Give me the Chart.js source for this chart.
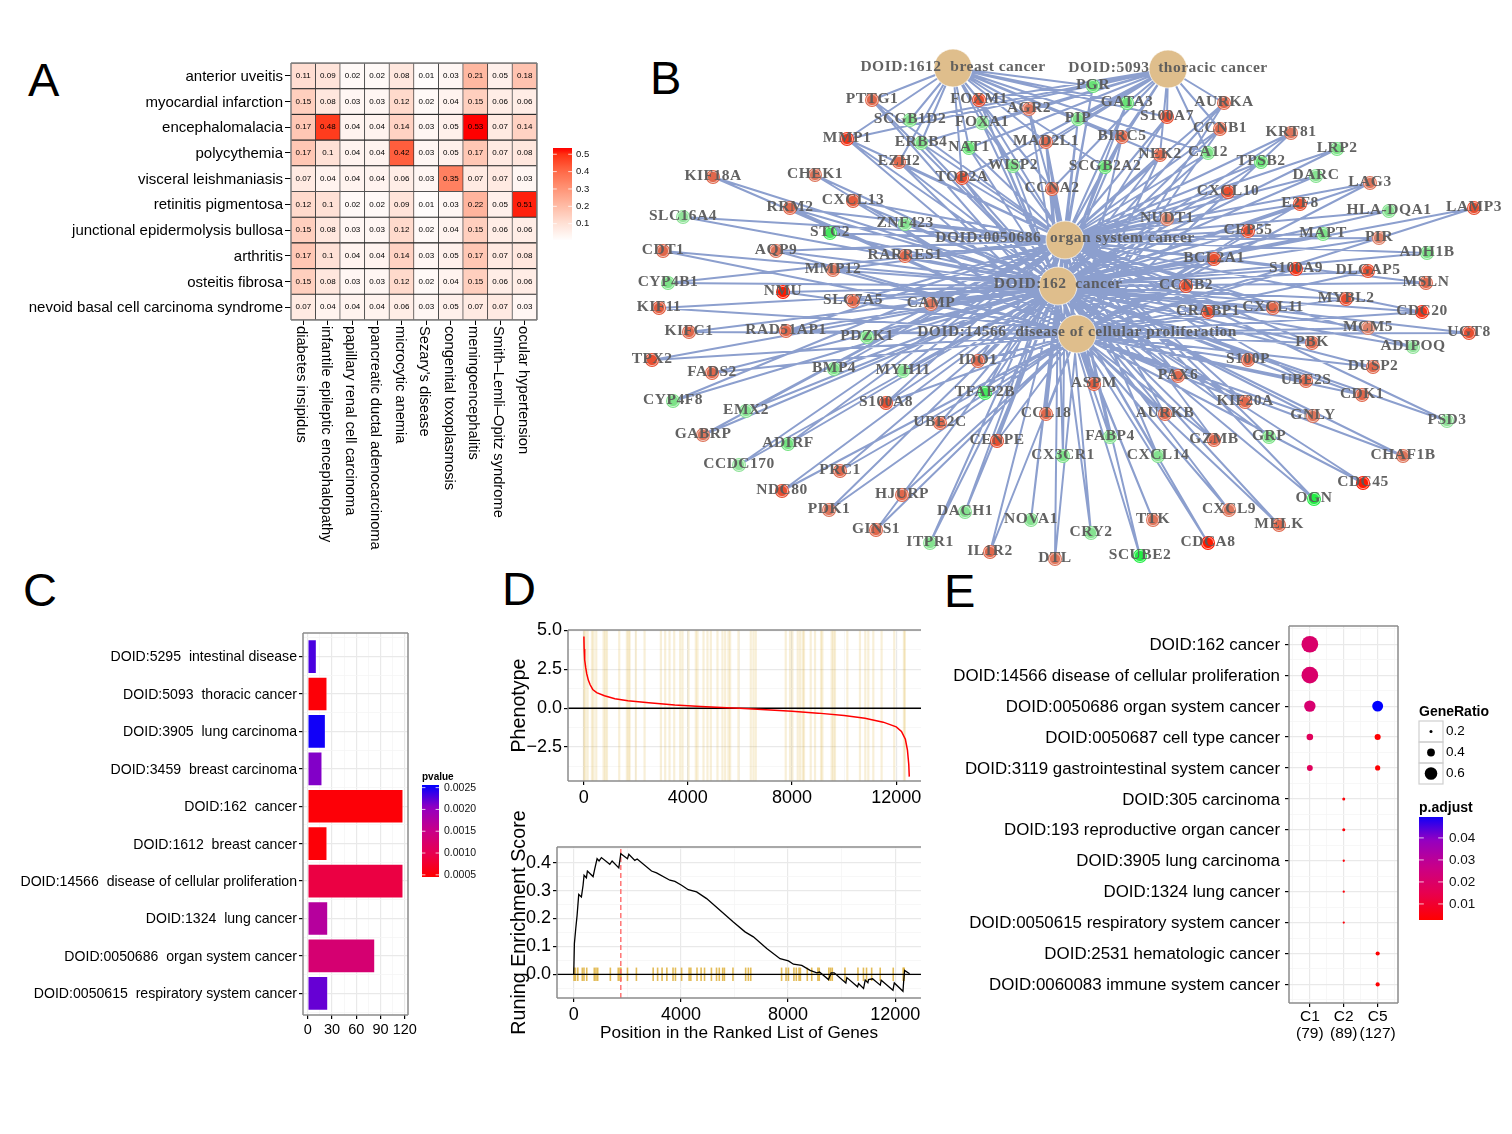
<!DOCTYPE html>
<html>
<head>
<meta charset="utf-8">
<title>Disease enrichment figure</title>
<script src="https://cdn.jsdelivr.net/npm/chart.js@4/dist/chart.umd.min.js"></script>
<style>
  html, body { margin: 0; background: #fff; }
  #page { position: relative; width: 1512px; height: 1134px; overflow: hidden; }
  #page canvas { position: absolute; }
  .letter { position: absolute; font: 47px "Liberation Sans"; line-height: 48px; color: #000; }
</style>
</head>
<body>
<div id="page">
  <div class="letter" style="left:28px;top:56px">A</div>
  <div class="letter" style="left:650px;top:54px">B</div>
  <div class="letter" style="left:23px;top:566px">C</div>
  <div class="letter" style="left:502px;top:565px">D</div>
  <div class="letter" style="left:944px;top:567px">E</div>
</div>
<script>
// Panel A data
const heatRows = ['anterior uveitis', 'myocardial infarction', 'encephalomalacia', 'polycythemia', 'visceral leishmaniasis',
  'retinitis pigmentosa', 'junctional epidermolysis bullosa', 'arthritis', 'osteitis fibrosa', 'nevoid basal cell carcinoma syndrome'];
const heatCols = ['diabetes insipidus', 'infantile epileptic encephalopathy', 'papillary renal cell carcinoma', 'pancreatic ductal adenocarcinoma',
  'microcytic anemia', "Sezary's disease", 'congenital toxoplasmosis', 'meningoencephalitis', 'Smith\u2013Lemli\u2013Opitz syndrome', 'ocular hypertension'];
const heatValues = [
  [0.11, 0.09, 0.02, 0.02, 0.08, 0.01, 0.03, 0.21, 0.05, 0.18],
  [0.15, 0.08, 0.03, 0.03, 0.12, 0.02, 0.04, 0.15, 0.06, 0.06],
  [0.17, 0.48, 0.04, 0.04, 0.14, 0.03, 0.05, 0.53, 0.07, 0.14],
  [0.17, 0.1, 0.04, 0.04, 0.42, 0.03, 0.05, 0.17, 0.07, 0.08],
  [0.07, 0.04, 0.04, 0.04, 0.06, 0.03, 0.35, 0.07, 0.07, 0.03],
  [0.12, 0.1, 0.02, 0.02, 0.09, 0.01, 0.03, 0.22, 0.05, 0.51],
  [0.15, 0.08, 0.03, 0.03, 0.12, 0.02, 0.04, 0.15, 0.06, 0.06],
  [0.17, 0.1, 0.04, 0.04, 0.14, 0.03, 0.05, 0.17, 0.07, 0.08],
  [0.15, 0.08, 0.03, 0.03, 0.12, 0.02, 0.04, 0.15, 0.06, 0.06],
  [0.07, 0.04, 0.04, 0.04, 0.06, 0.03, 0.05, 0.07, 0.07, 0.03]
];

const hubNames = ['DOID:1612  breast cancer', 'DOID:5093  thoracic cancer', 'DOID:0050686  organ system cancer', 'DOID:162  cancer', 'DOID:14566  disease of cellular proliferation'];
const hubCodes = ['B', 'T', 'O', 'C', 'P'];
const hubX = [953, 1168, 1065, 1058, 1077];
const hubY = [68, 69, 240, 286, 334];
const geneNames = ['PTTG1', 'FOXM1', 'AGR2', 'SCGB1D2', 'FOXA1', 'PIP', 'MMP1', 'ERBB4', 'NAT1', 'MAD2L1', 'EZH2', 'WISP2', 'TOP2A', 'CCNA2',
  'PGR', 'GATA3', 'AURKA', 'S100A7', 'CCNB1', 'BIRC5', 'NEK2', 'CA12', 'SCGB2A2', 'KRT81', 'LRP2', 'TPSB2', 'DARC', 'LAG3', 'CXCL10', 'E2F8',
  'HLA-DQA1', 'LAMP3', 'NUDT1', 'CEP55', 'MAPT', 'PIR', 'ADH1B', 'BCL2A1', 'S100A9', 'DLGAP5', 'MSLN', 'CCNB2', 'MYBL2', 'CRABP1', 'CXCL11',
  'CDC20', 'MCM5', 'UGT8', 'PBK', 'ADIPOQ', 'S100P', 'DUSP2', 'PAX6', 'UBE2S', 'ASPM', 'CDK1', 'KIF20A', 'AURKB', 'GNLY', 'PSD3', 'FABP4',
  'GRP', 'GZMB', 'CX3CR1', 'CXCL14', 'CHAF1B', 'CDC45', 'OGN', 'CXCL9', 'TTK', 'MELK', 'CRY2', 'CDCA8', 'SCUBE2', 'DTL',
  'KIF18A', 'CHEK1', 'CXCL13', 'RRM2', 'SLC16A4', 'ZNF423', 'STC2', 'AQP9', 'CDT1', 'RARRES1', 'MMP12', 'CYP4B1', 'NMU', 'SLC7A5', 'CAMP',
  'KIF11', 'KIFC1', 'RAD51AP1', 'PDZK1', 'TPX2', 'FADS2', 'IDO1', 'BMP4', 'MYH11', 'CYP4F8', 'EMX2', 'TFAP2B', 'S100A8', 'UBE2C', 'CCL18',
  'GABRP', 'ADIRF', 'CENPE', 'CCDC170', 'PRC1', 'NDC80', 'HJURP', 'PDK1', 'DACH1', 'NOVA1', 'GINS1', 'ITPR1', 'IL1R2'];
const geneX = [872, 979, 1029, 910, 982, 1078, 847, 921, 969, 1046, 899, 1013, 962, 1052,
  1093, 1127, 1224, 1167, 1220, 1122, 1160, 1208, 1105, 1291, 1337, 1261, 1316, 1370, 1228, 1300,
  1389, 1474, 1167, 1248, 1323, 1379, 1427, 1214, 1296, 1368, 1426, 1186, 1346, 1208, 1273,
  1422, 1368, 1469, 1312, 1413, 1248, 1373, 1178, 1306, 1094, 1362, 1245, 1165, 1313, 1447, 1110,
  1269, 1214, 1063, 1158, 1403, 1363, 1314, 1229, 1153, 1279, 1091, 1208, 1140, 1055,
  713, 815, 853, 790, 683, 905, 830, 776, 663, 905, 833, 668, 783, 853, 931,
  659, 689, 786, 867, 652, 712, 978, 834, 903, 673, 746, 985, 886, 940, 1046,
  703, 788, 997, 739, 840, 782, 902, 829, 965, 1031, 876, 930, 990];
const geneY = [100, 100, 109, 120, 123, 119, 139, 143, 148, 142, 162, 166, 178, 189,
  86, 103, 103, 117, 129, 137, 155, 153, 167, 133, 149, 162, 176, 183, 192, 204,
  211, 208, 219, 231, 234, 238, 253, 259, 269, 271, 283, 286, 299, 312, 308,
  312, 328, 333, 343, 347, 360, 367, 376, 381, 384, 395, 402, 414, 416, 421, 437,
  437, 440, 456, 456, 456, 483, 499, 510, 520, 525, 533, 543, 556, 559,
  177, 175, 201, 208, 217, 224, 233, 251, 251, 256, 270, 283, 292, 301, 304,
  308, 332, 331, 337, 360, 373, 361, 369, 371, 401, 411, 393, 403, 423, 414,
  435, 444, 441, 465, 471, 491, 495, 510, 512, 520, 530, 543, 552];
const geneFold = [2, 3, 1.5, -2, -1.5, -2, 4, -2, -3, 2, 2, -2, 3, 2,
  -3, -3, 2, 3, 2, 2, 2, -2, -3, 1.5, -2, -3, -1.5, 1.5, 3, 3,
  -1.5, 3, 1, 3, -2, 1, -2, 3, 4, 3, 2, 3, 3, 3, 2,
  4, 1, 3, 2, -1, 2, 2, 2, 2, 2.5, 2, 2, 2, 1.5, -1, -1.5,
  -2, 2, -2, -1.5, 1.5, 5, -5, 1.5, 1.5, 2, -1.5, 5, -5, 1.5,
  2, 1.5, 2.5, 2, -1, -1.5, -4, 1.5, 2, 2, 1.5, -2, 5, 2, 1.5,
  2.5, 2, 2, -2, 3, 2, 2, -2, -1.5, -2, -1.5, -4, 3, 2, 2,
  1.5, -2.5, 3, -1, 2, 3, 2, 1.5, -1.5, -1.5, 2, -1.5, 2];
const geneHubs = ['BOCP', 'BTOCP', 'BTOC', 'BT', 'BTOC', 'BTOC', 'BTOCP', 'BTOC', 'BTOC', 'BTOCP', 'BOCP', 'BTOC', 'BTOCP', 'BTOCP',
  'BTOC', 'BTOC', 'TOCP', 'BTOC', 'TOCP', 'BTOCP', 'BTOCP', 'BTOC', 'BTOC', 'OCP', 'OC', 'OC', 'OC', 'OCP', 'OCP', 'OCP',
  'OC', 'CP', 'OCP', 'OCP', 'OC', 'OC', 'OC', 'OCP', 'OCP', 'CP', 'OC', 'OCP', 'CP', 'OCP', 'OCP',
  'OCP', 'CP', 'CP', 'OCP', 'OC', 'OCP', 'CP', 'OCP', 'OCP', 'OCP', 'CP', 'OCP', 'OCP', 'CP', 'OC', 'OC',
  'OC', 'OCP', 'OC', 'OC', 'CP', 'CP', 'OC', 'CP', 'CP', 'CP', 'OC', 'CP', 'OC', 'CP',
  'CP', 'CP', 'OCP', 'OCP', 'OC', 'OC', 'OC', 'OCP', 'CP', 'OC', 'OCP', 'OC', 'CP', 'OCP', 'OCP',
  'CP', 'CP', 'OCP', 'OC', 'CP', 'CP', 'OCP', 'OC', 'OC', 'OC', 'OC', 'OC', 'OCP', 'CP', 'OCP',
  'OC', 'OC', 'OCP', 'OC', 'CP', 'CP', 'CP', 'CP', 'OC', 'OC', 'CP', 'OC', 'CP'];

// Panel C data
const barNames = ['DOID:5295  intestinal disease', 'DOID:5093  thoracic cancer', 'DOID:3905  lung carcinoma', 'DOID:3459  breast carcinoma',
  'DOID:162  cancer', 'DOID:1612  breast cancer', 'DOID:14566  disease of cellular proliferation', 'DOID:1324  lung cancer',
  'DOID:0050686  organ system cancer', 'DOID:0050615  respiratory system cancer'];
const barCounts = [10.7, 23.9, 21.9, 17.7, 118, 23.9, 118, 24.8, 83, 24.8];
const barPvalues = [0.0023, 0.0005, 0.0025, 0.0021, 0.0005, 0.0005, 0.0009, 0.0017, 0.0013, 0.0022];
const barXTicks = [0, 30, 60, 90, 120];

// Panel D data
const rankX = [10, 20, 40, 80, 120, 180, 250, 350, 500, 800, 1200, 1700, 2500, 3500, 4500, 5500, 6000, 7000, 8000, 9000, 10000, 10800, 11500, 12000, 12200, 12350, 12430, 12480, 12500];
const rankY = [4.6, 3.8, 3.1, 2.6, 2.2, 1.8, 1.5, 1.2, 1.0, 0.8, 0.6, 0.48, 0.35, 0.2, 0.1, 0.03, 0, -0.1, -0.2, -0.32, -0.48, -0.65, -0.9, -1.2, -1.5, -2.0, -2.7, -3.6, -4.4];
const hitPositions = [13, 64, 153, 320, 383, 486, 767, 831, 895, 1367, 1661, 1725, 1764, 2006, 2339, 2965, 3131, 3297, 3476, 3706, 3796, 4026, 4307, 4371,
  4601, 4754, 4882, 5138, 5329, 5432, 5559, 5623, 5943, 6416, 6518, 6607, 7757, 7923, 8013, 8218, 8307, 8409, 8460, 8716, 8882, 9112, 9163,
  9521, 9585, 9649, 10122, 10607, 10812, 10927, 11119, 11438, 11924, 12294, 12333];
const esX = [0, 25, 75, 125, 187, 287, 349, 386, 474, 511, 723, 785, 872, 947, 1034, 1346, 1433, 1682, 1757, 2006, 2056, 2280, 2368, 2904, 3090, 3589, 3776, 4025, 4274, 4586, 4960,
  5458, 5956, 6393, 6704, 7203, 7701, 8012, 8199, 8511, 8822, 9071, 9171, 9508, 9607, 9720, 10156, 10193, 10592, 10629, 10816, 10878, 10978, 11003, 11152, 11439, 11476, 11913, 11963, 12287, 12312, 12349, 12536];
const esY = [0, 0.11, 0.163, 0.21, 0.286, 0.277, 0.319, 0.355, 0.346, 0.37, 0.35, 0.378, 0.414, 0.406, 0.418, 0.394, 0.406, 0.381, 0.432, 0.414, 0.43, 0.408, 0.413, 0.37, 0.363, 0.337, 0.333, 0.319, 0.303, 0.295, 0.271,
  0.229, 0.187, 0.152, 0.134, 0.092, 0.056, 0.048, 0.036, 0.032, 0.014, 0.005, 0.008, -0.019, 0.005, 0.005, -0.031, -0.012, -0.045, -0.033, -0.051, -0.021, -0.03, -0.019, -0.016, -0.039, -0.021, -0.057, -0.031, -0.061, -0.027, 0.014, 0.002];
const esPeakX = 1757;
const rankXTicks = [0, 4000, 8000, 12000];
const phenoYTicks = [-2.5, 0, 2.5, 5];
const esYTicks = [0, 0.1, 0.2, 0.3, 0.4];

// Panel E data
const dotNames = ['DOID:162 cancer', 'DOID:14566 disease of cellular proliferation', 'DOID:0050686 organ system cancer', 'DOID:0050687 cell type cancer',
  'DOID:3119 gastrointestinal system cancer', 'DOID:305 carcinoma', 'DOID:193 reproductive organ cancer', 'DOID:3905 lung carcinoma', 'DOID:1324 lung cancer',
  'DOID:0050615 respiratory system cancer', 'DOID:2531 hematologic cancer', 'DOID:0060083 immune system cancer'];
const dotGroups = [['C1', '(79)'], ['C2', '(89)'], ['C5', '(127)']];
const dotCol = [1, 1, 1, 1, 1, 2, 2, 2, 2, 2, 3, 3, 3, 3, 3];
const dotRow = [1, 2, 3, 4, 5, 6, 7, 8, 9, 10, 3, 4, 5, 11, 12];
const dotRatio = [0.77, 0.77, 0.55, 0.35, 0.32, 0.2, 0.2, 0.17, 0.17, 0.17, 0.53, 0.33, 0.29, 0.25, 0.25];
const dotAdjust = [0.02, 0.02, 0.021, 0.017, 0.017, 0.004, 0.004, 0.004, 0.004, 0.004, 0.0495, 0.003, 0.003, 0.003, 0.003];

Chart.defaults.animation = false;
Chart.defaults.responsive = false;
Chart.defaults.font.family = 'Liberation Sans';
Chart.defaults.color = '#000';
Chart.defaults.plugins.legend.display = false;
Chart.defaults.plugins.tooltip.enabled = false;

const page = document.getElementById('page');

function addCanvas(box) {
  const c = document.createElement('canvas');
  c.width = box.r - box.l;
  c.height = box.b - box.t;
  c.style.left = box.l + 'px';
  c.style.top = box.t + 'px';
  page.appendChild(c);
  return c;
}

// pins the plot area to exact page pixels
function pinLayout(box, plot) {
  return { autoPadding: false, padding: { left: 0, top: plot.t - box.t, right: box.r - plot.r, bottom: 0 } };
}

function ramp(stops, t) {
  t = Math.min(1, Math.max(0, t));
  let i = 0;
  while (i < stops.length - 2 && t > stops[i + 1][0]) i++;
  const [t0, c0] = stops[i], [t1, c1] = stops[i + 1];
  const f = (t - t0) / (t1 - t0);
  const rgb = [1, 3, 5].map(k => {
    const a = parseInt(c0.substr(k, 2), 16), b = parseInt(c1.substr(k, 2), 16);
    return Math.round(a + (b - a) * f);
  });
  return `rgb(${rgb.join(',')})`;
}

const heatStops = [[0, '#ffffff'], [0.1, '#ffe1d6'], [0.2, '#ffbca6'], [0.3, '#ff9577'], [0.4, '#ff6a48'], [0.5, '#ff3012'], [0.53, '#ff0000'], [1, '#ff0000']];
const redBlue = [[0, '#ff0000'], [0.25, '#e8004e'], [0.5, '#c90088'], [0.75, '#9500c0'], [1, '#0000ff']];

function legendBar(ctx, o) {
  const g = ctx.createLinearGradient(0, o.y + o.h, 0, o.y);
  for (let i = 0; i <= 30; i++) g.addColorStop(i / 30, ramp(o.stops, o.from + (o.to - o.from) * i / 30));
  ctx.fillStyle = g;
  ctx.fillRect(o.x, o.y, o.w, o.h);
  ctx.textBaseline = 'middle';
  ctx.textAlign = 'left';
  o.ticks.forEach(tk => {
    const py = o.y + o.h - (tk.value - o.valueMin) / (o.valueMax - o.valueMin) * o.h;
    ctx.fillStyle = 'rgba(255,255,255,0.75)';
    ctx.fillRect(o.x, py - 0.5, o.w / 5, 1);
    ctx.fillRect(o.x + o.w * 4 / 5, py - 0.5, o.w / 5, 1);
    ctx.fillStyle = '#111';
    ctx.font = o.font;
    ctx.fillText(tk.label, o.x + o.w + o.gap, py);
  });
  if (o.title) {
    ctx.font = o.titleFont;
    ctx.fillStyle = '#000';
    ctx.fillText(o.title, o.x, o.y - o.titleGap);
  }
}

function framePlugin(color, width, sides) {
  return {
    id: 'frame',
    afterDraw(chart) {
      const { ctx, chartArea: a } = chart;
      ctx.save();
      ctx.strokeStyle = color;
      ctx.lineWidth = width;
      ctx.beginPath();
      if (sides.includes('l')) { ctx.moveTo(a.left, a.top); ctx.lineTo(a.left, a.bottom); }
      if (sides.includes('t')) { ctx.moveTo(a.left, a.top); ctx.lineTo(a.right, a.top); }
      if (sides.includes('b')) { ctx.moveTo(a.left, a.bottom); ctx.lineTo(a.right, a.bottom); }
      if (sides.includes('r')) { ctx.moveTo(a.right, a.top); ctx.lineTo(a.right, a.bottom); }
      ctx.stroke();
      ctx.restore();
    }
  };
}

// axis with major ticks from a list and unlabelled minor grid lines half way between them
function gridAxis(box, plot, horizontal, majors, opts) {
  const step = majors[1] - majors[0];
  const isMajor = v => majors.some(m => Math.abs(m - v) < step * 0.01);
  const tickIsMajor = c => !c.tick || isMajor(c.tick.value);
  const values = [];
  for (let v = majors[0] - step * 2; v <= majors[majors.length - 1] + step * 2 + 1e-9; v += step / 2) {
    const r = Math.round(v * 1000) / 1000;
    if (r >= opts.min && r <= opts.max) values.push(r);
  }
  return {
    type: 'linear',
    offset: false,
    min: opts.min,
    max: opts.max,
    reverse: !!opts.reverse,
    title: opts.title ? { display: true, text: opts.title, font: { size: opts.titleSize }, padding: 0 } : { display: false },
    border: { display: false },
    grid: {
      offset: false,
      color: c => tickIsMajor(c) ? '#e9e9e9' : '#f5f5f5',
      tickColor: c => tickIsMajor(c) ? '#000' : 'rgba(0,0,0,0)',
      tickLength: 4,
      lineWidth: c => tickIsMajor(c) ? 1.2 : 0.8
    },
    ticks: {
      autoSkip: false,
      maxRotation: 0,
      minRotation: 0,
      font: { size: opts.size, lineHeight: opts.lineHeight || 1.2 },
      padding: opts.padding === undefined ? 3 : opts.padding,
      labelOffset: opts.labelOffset || 0,
      callback: v => isMajor(v) ? opts.label(v) : ''
    },
    afterBuildTicks(axis) { axis.ticks = values.map(value => ({ value })); },
    afterFit(s) { if (horizontal) s.height = box.b - plot.b; else s.width = plot.l - box.l; }
  };
}

// ---- Panel A: heat map
(function () {
  const box = { l: 0, t: 40, r: 620, b: 560 };
  const plot = { l: 291, t: 63, r: 537, b: 320 };
  const datasets = heatCols.map((name, c) => ({
    label: name,
    data: heatRows.map(() => 1),
    values: heatValues.map(row => row[c]),
    backgroundColor: heatValues.map(row => ramp(heatStops, row[c])),
    borderColor: '#2b2b2b',
    borderWidth: 0.9,
    barPercentage: 1,
    categoryPercentage: 1
  }));
  new Chart(addCanvas(box), {
    type: 'bar',
    data: { labels: heatRows, datasets },
    options: {
      indexAxis: 'y',
      layout: pinLayout(box, plot),
      scales: {
        x: {
          type: 'linear', stacked: true, min: 0, max: 10,
          border: { display: false },
          grid: { drawOnChartArea: false, tickColor: '#000', tickLength: 5 },
          ticks: { display: false },
          afterBuildTicks(axis) { axis.ticks = heatCols.map((n, i) => ({ value: i + 0.5 })); },
          afterFit(s) { s.height = box.b - plot.b; }
        },
        y: {
          stacked: true,
          border: { display: false },
          grid: { drawOnChartArea: false, tickColor: '#000', tickLength: 6, offset: false },
          ticks: { font: { size: 15 }, padding: 2, autoSkip: false, labelOffset: 1 },
          afterFit(s) { s.width = plot.l - box.l; }
        }
      }
    },
    plugins: [framePlugin('#7f7f7f', 1.5, 'ltbr'), {
      id: 'heatText',
      afterDraw(chart) {
        const { ctx } = chart;
        ctx.save();
        ctx.textAlign = 'center';
        ctx.textBaseline = 'middle';
        ctx.font = '8px "Liberation Sans"';
        ctx.fillStyle = '#000';
        chart.data.datasets.forEach((ds, c) => {
          chart.getDatasetMeta(c).data.forEach((bar, r) => {
            const p = bar.getCenterPoint();
            ctx.fillText(String(ds.values[r]), p.x, p.y);
          });
        });
        // column names read top to bottom
        const xs = chart.scales.x;
        ctx.font = '14.7px "Liberation Sans"';
        ctx.textAlign = 'left';
        heatCols.forEach((name, i) => {
          ctx.save();
          ctx.translate(xs.getPixelForValue(i + 0.5) - 2, plot.b - box.t + 6);
          ctx.rotate(Math.PI / 2);
          ctx.fillText(name, 0, 0);
          ctx.restore();
        });
        legendBar(ctx, {
          x: 553, y: 148 - box.t, w: 19, h: 92, stops: heatStops, from: 0.006, to: 0.536, valueMin: 0.006, valueMax: 0.536,
          ticks: [0.1, 0.2, 0.3, 0.4, 0.5].map(v => ({ value: v, label: v.toFixed(1) })),
          font: '9.5px "Liberation Sans"', gap: 4
        });
        ctx.restore();
      }
    }]
  });
})();

// ---- Panel B: gene network
(function () {
  const box = { l: 630, t: 40, r: 1510, b: 575 };
  const linkPoints = [];
  geneNames.forEach((g, i) => {
    geneHubs[i].split('').forEach(code => {
      const h = hubCodes.indexOf(code);
      linkPoints.push({ x: geneX[i], y: geneY[i] }, { x: hubX[h], y: hubY[h] }, { x: null, y: null });
    });
  });
  const redStops = [[0, '#dc8068'], [0.4, '#e2583a'], [1, '#ff1a00']];
  const greenStops = [[0, '#8fe298'], [0.5, '#68e276'], [1, '#22ee44']];
  const geneColor = f => f > 0 ? ramp(redStops, (f - 1) / 4) : ramp(greenStops, (-f - 1) / 4);
  const genePoints = geneNames.map((g, i) => ({ x: geneX[i], y: geneY[i] }));
  const hubPoints = hubNames.map((g, i) => ({ x: hubX[i], y: hubY[i] }));
  new Chart(addCanvas(box), {
    type: 'scatter',
    data: {
      datasets: [
        { data: hubPoints, pointRadius: 19, backgroundColor: '#dfbe8c', borderColor: 'rgba(255,255,255,0.7)', borderWidth: 1, order: 1 },
        { data: genePoints, pointRadius: 5.6, backgroundColor: 'rgba(0,0,0,0)', borderColor: 'rgba(255,255,255,0.65)', borderWidth: 0.9, order: 2 },
        { data: genePoints, pointRadius: 7, backgroundColor: geneFold.map(geneColor), borderWidth: 0, order: 3 },
        { data: linkPoints, showLine: true, pointRadius: 0, borderColor: '#8c9fce', borderWidth: 2, spanGaps: false, order: 4 }
      ]
    },
    options: {
      layout: { autoPadding: false, padding: 0 },
      scales: {
        x: { display: false, min: box.l, max: box.r },
        y: { display: false, min: box.t, max: box.b, reverse: true }
      }
    },
    plugins: [{
      id: 'nodeLabels',
      afterDatasetsDraw(chart) {
        const { ctx } = chart;
        ctx.save();
        ctx.textAlign = 'center';
        ctx.textBaseline = 'middle';
        ctx.font = 'bold 15.5px "Liberation Serif"';
        ctx.letterSpacing = '0.5px';
        ctx.fillStyle = 'rgba(90,90,90,0.95)';
        chart.getDatasetMeta(2).data.forEach((pt, i) => ctx.fillText(geneNames[i], pt.x, pt.y - 1));
        chart.getDatasetMeta(0).data.forEach((pt, i) => {
          const dy = i < 2 ? -1 : -2;
          ctx.fillText(hubNames[i], pt.x, pt.y + dy);
        });
        ctx.restore();
      }
    }]
  });
})();

// ---- Panel C: bars
(function () {
  const box = { l: 0, t: 610, r: 500, b: 1050 };
  const plot = { l: 303, t: 633, r: 408, b: 1015 };
  const pvalueT = v => (v - 0.00045) / (0.00256 - 0.00045);
  new Chart(addCanvas(box), {
    type: 'bar',
    data: {
      datasets: [{
        data: barCounts.map((v, i) => ({ x: v, y: i + 1 })),
        backgroundColor: barPvalues.map(v => ramp(redBlue, pvalueT(v))),
        borderColor: 'rgba(255,255,255,0.35)',
        borderWidth: 1,
        barThickness: 34
      }]
    },
    options: {
      indexAxis: 'y',
      layout: pinLayout(box, plot),
      scales: {
        x: gridAxis(box, plot, true, barXTicks, { min: -6, max: 124, size: 14.5, label: v => String(v), padding: 2 }),
        y: gridAxis(box, plot, false, barNames.map((n, i) => i + 1), { min: 0.37, max: 10.58, reverse: true, size: 14.1, label: v => barNames[v - 1], padding: 2, labelOffset: 1 })
      }
    },
    plugins: [framePlugin('#8c8c8c', 1.5, 'ltbr'), {
      id: 'pvalueLegend',
      afterDraw(chart) {
        legendBar(chart.ctx, {
          x: 422, y: 785 - box.t, w: 17, h: 92, stops: redBlue, from: 0, to: 1, valueMin: 0.00045, valueMax: 0.00256,
          ticks: [0.0005, 0.001, 0.0015, 0.002, 0.0025].map(v => ({ value: v, label: v.toFixed(4) })),
          font: '10.5px "Liberation Sans"', gap: 5,
          title: 'pvalue', titleFont: 'bold 10px "Liberation Sans"', titleGap: 8
        });
      }
    }]
  });
})();

// ---- Panel D top: ranked phenotype
(function () {
  const box = { l: 508, t: 605, r: 935, b: 812 };
  const plot = { l: 568, t: 630, r: 921, b: 781 };
  new Chart(addCanvas(box), {
    type: 'scatter',
    data: {
      datasets: [
        { data: rankX.map((x, i) => ({ x, y: rankY[i] })), showLine: true, pointRadius: 0, borderColor: '#ff0000', borderWidth: 1.5, order: 1 },
        { data: [{ x: -600, y: 0 }, { x: 12950, y: 0 }], showLine: true, pointRadius: 0, borderColor: '#000', borderWidth: 1.5, order: 2 },
        { data: hitPositions.map(x => ({ x, y: 0.16 })), pointStyle: 'line', rotation: 90, pointRadius: 90, pointBorderColor: 'rgba(218,165,32,0.18)', pointBorderWidth: 2.2, order: 3 }
      ]
    },
    options: {
      layout: pinLayout(box, plot),
      scales: {
        x: gridAxis(box, plot, true, rankXTicks, { min: -600, max: 12950, size: 18, label: v => String(v), padding: 2 }),
        y: gridAxis(box, plot, false, phenoYTicks, {
          min: -4.68, max: 5.02, size: 18, title: 'Phenotype', titleSize: 19.7, padding: 2,
          label: v => (v < 0 ? '\u2212' : '') + Math.abs(v).toFixed(1)
        })
      }
    },
    plugins: [framePlugin('#8c8c8c', 1.5, 'ltb')]
  });
})();

// ---- Panel D bottom: running score
(function () {
  const box = { l: 508, t: 800, r: 935, b: 1044 };
  const plot = { l: 557, t: 847, r: 921, b: 998 };
  new Chart(addCanvas(box), {
    type: 'scatter',
    data: {
      datasets: [
        { data: esX.map((x, i) => ({ x, y: esY[i] })), showLine: true, pointRadius: 0, borderColor: '#000', borderWidth: 1.3, order: 1 },
        { data: [{ x: -624, y: 0 }, { x: 12960, y: 0 }], showLine: true, pointRadius: 0, borderColor: '#000', borderWidth: 1.3, order: 2 },
        { data: [{ x: esPeakX, y: -0.085 }, { x: esPeakX, y: 0.456 }], showLine: true, pointRadius: 0, borderColor: '#ff6b6b', borderWidth: 1.4, borderDash: [5, 3], order: 3 },
        { data: hitPositions.map(x => ({ x, y: 0 })), pointStyle: 'line', rotation: 90, pointRadius: 6.7, pointBorderColor: 'rgba(218,165,32,0.75)', pointBorderWidth: 1.6, order: 4 }
      ]
    },
    options: {
      layout: pinLayout(box, plot),
      scales: {
        x: gridAxis(box, plot, true, rankXTicks, { min: -624, max: 12960, size: 18, label: v => String(v), title: 'Position in the Ranked List of Genes', titleSize: 17.2, padding: 2 }),
        y: gridAxis(box, plot, false, esYTicks, { min: -0.085, max: 0.456, size: 18, label: v => v.toFixed(1), title: 'Runing Enrichment Score', titleSize: 19.7, padding: 2 })
      }
    },
    plugins: [framePlugin('#8c8c8c', 1.5, 'ltb')]
  });
})();

// ---- Panel E: dot plot
(function () {
  const box = { l: 940, t: 600, r: 1510, b: 1050 };
  const plot = { l: 1289, t: 626, r: 1398, b: 1003 };
  const adjustT = v => (v - 0.0027) / (0.0495 - 0.0027);
  const ratioRadius = v => 1.5 + 12 * (v - 0.2);
  new Chart(addCanvas(box), {
    type: 'bubble',
    data: {
      datasets: [{
        data: dotCol.map((c, i) => ({ x: c, y: dotRow[i], r: ratioRadius(dotRatio[i]) })),
        backgroundColor: dotAdjust.map(v => ramp(redBlue, adjustT(v))),
        borderWidth: 0
      }]
    },
    options: {
      layout: pinLayout(box, plot),
      scales: {
        x: gridAxis(box, plot, true, [1, 2, 3], { min: 0.385, max: 3.6, size: 15.5, lineHeight: 1.05, label: v => dotGroups[v - 1], padding: 2 }),
        y: gridAxis(box, plot, false, dotNames.map((n, i) => i + 1), { min: 0.41, max: 12.6, reverse: true, size: 16.9, label: v => dotNames[v - 1], padding: 5, labelOffset: 1 })
      }
    },
    plugins: [framePlugin('#8c8c8c', 1.5, 'ltbr'), {
      id: 'dotLegends',
      afterDraw(chart) {
        const { ctx } = chart;
        const ox = box.l, oy = box.t;
        ctx.save();
        ctx.fillStyle = '#000';
        ctx.textAlign = 'left';
        ctx.textBaseline = 'middle';
        ctx.font = 'bold 14px "Liberation Sans"';
        ctx.fillText('GeneRatio', 1419 - ox, 712 - oy);
        [0.2, 0.4, 0.6].forEach((v, i) => {
          const top = 721 + i * 21;
          ctx.strokeStyle = '#cfcfcf';
          ctx.lineWidth = 1.2;
          ctx.strokeRect(1419 - ox, top - oy, 24, 21);
          ctx.fillStyle = '#000';
          ctx.beginPath();
          ctx.arc(1431 - ox, top + 10.5 - oy, ratioRadius(v), 0, Math.PI * 2);
          ctx.fill();
          ctx.font = '13.5px "Liberation Sans"';
          ctx.fillText(v.toFixed(1), 1446 - ox, top + 10.5 - oy);
        });
        legendBar(ctx, {
          x: 1419 - ox, y: 817 - oy, w: 24, h: 103, stops: redBlue, from: 0, to: 0.97, valueMin: 0.0027, valueMax: 0.0495,
          ticks: [0.01, 0.02, 0.03, 0.04].map(v => ({ value: v, label: v.toFixed(2) })),
          font: '13.5px "Liberation Sans"', gap: 6,
          title: 'p.adjust', titleFont: 'bold 14px "Liberation Sans"', titleGap: 9
        });
        ctx.restore();
      }
    }]
  });
})();
</script>
</body>
</html>
